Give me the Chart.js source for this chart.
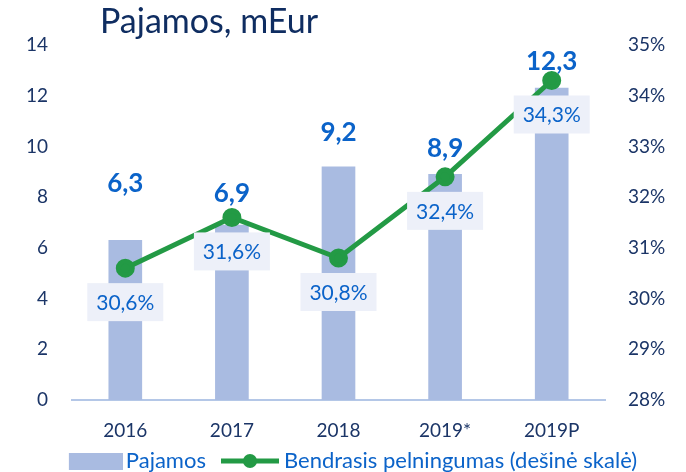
<!DOCTYPE html>
<html>
<head>
<meta charset="utf-8">
<title>Pajamos, mEur</title>
<script src="https://cdn.jsdelivr.net/npm/chart.js@4.4.1/dist/chart.umd.min.js"></script>
<style>
  html, body { margin: 0; padding: 0; background: #fff; }
  #wrap { width: 686px; height: 472px; position: relative; }
</style>
</head>
<body>
<div id="wrap"><canvas id="revChart"></canvas></div>
<script>
// data
const categories = ['2016', '2017', '2018', '2019*', '2019P'];
const revenue = [6.3, 6.9, 9.2, 8.9, 12.3];      // mEur, left axis
const grossMargin = [30.6, 31.6, 30.8, 32.4, 34.3]; // %, right axis
const leftTicks = [0, 2, 4, 6, 8, 10, 12, 14];
const rightTicks = [28, 29, 30, 31, 32, 33, 34, 35];

// how far above each bar top the value sits (px) - the 2016 one is pushed up past the line
const valueLift = [57, 31, 34, 26, 26];

const FONT = 'Lato, "Open Sans", sans-serif';
const NAVY = '#1b3567';
const BLUE = '#0b63c9';
const BAR = '#a9bbe1';
const GREEN = '#239a45';

const fmt = v => String(v).replace('.', ',');

// legend symbols: drawn off-centre inside the canvas so they sit close to their text
function legendRect() {
  const c = document.createElement('canvas');
  c.width = 82; c.height = 17;
  const g = c.getContext('2d');
  g.fillStyle = BAR;
  g.fillRect(28, 0, 54, 17);
  return c;
}
function legendLine() {
  const c = document.createElement('canvas');
  c.width = 78; c.height = 16;
  const g = c.getContext('2d');
  g.strokeStyle = GREEN; g.lineWidth = 5;
  g.beginPath(); g.moveTo(20, 8); g.lineTo(78, 8); g.stroke();
  g.fillStyle = GREEN;
  g.beginPath(); g.arc(49, 8, 7, 0, Math.PI * 2); g.fill();
  return c;
}

const labelsPlugin = {
  id: 'labels',
  afterDatasetsDraw(chart) {
    const ctx = chart.ctx;
    ctx.save();
    // bar values
    const bars = chart.getDatasetMeta(1);
    ctx.font = 'bold 26px ' + FONT;
    ctx.fillStyle = BLUE;
    ctx.textAlign = 'center';
    ctx.textBaseline = 'middle';
    bars.data.forEach((el, i) => {
      ctx.fillText(fmt(revenue[i]), el.x, el.y - valueLift[i]);
    });
    // margin boxes under the points
    const pts = chart.getDatasetMeta(0);
    ctx.font = '21px ' + FONT;
    pts.data.forEach((el, i) => {
      const cy = el.y + 34;
      ctx.fillStyle = '#edf0f9';
      ctx.fillRect(el.x - 38, cy - 19, 76, 38);
      ctx.fillStyle = BLUE;
      ctx.fillText(fmt(grossMargin[i]) + '%', el.x, cy + 1);
    });
    ctx.restore();
  },
  afterDraw(chart) {
    const ctx = chart.ctx;
    ctx.save();
    ctx.font = '34px ' + FONT;
    ctx.fillStyle = '#0f2d61';
    ctx.textAlign = 'left';
    ctx.textBaseline = 'alphabetic';
    ctx.fillText('Pajamos, mEur', 100, 33);
    ctx.restore();
  }
};

const rectImg = legendRect();
const lineImg = legendLine();

new Chart(document.getElementById('revChart'), {
  data: {
    labels: categories,
    datasets: [
      {
        type: 'line',
        label: 'Bendrasis pelningumas (dešinė skalė)',
        data: grossMargin,
        yAxisID: 'y1',
        borderColor: GREEN,
        backgroundColor: GREEN,
        borderWidth: 5,
        pointRadius: 7,
        pointHoverRadius: 7,
        tension: 0
      },
      {
        type: 'bar',
        label: 'Pajamos',
        data: revenue,
        yAxisID: 'y',
        backgroundColor: BAR,
        barThickness: 33
      }
    ]
  },
  options: {
    responsive: true,
    maintainAspectRatio: false,
    animation: false,
    layout: { padding: { top: 45, left: 0, right: 0, bottom: -10 } },
    scales: {
      x: {
        afterFit: axis => { axis.height = 49; },
        grid: { display: false, drawTicks: false },
        border: { display: true, color: '#b4c7e7', width: 2 },
        ticks: { color: NAVY, font: { family: FONT, size: 19 }, padding: 19 }
      },
      y: {
        position: 'left',
        min: 0, max: 14,
        afterBuildTicks: axis => { axis.ticks = leftTicks.map(v => ({ value: v })); },
        afterFit: axis => { axis.width = 72; },
        grid: { display: false, drawTicks: false },
        border: { display: false },
        ticks: { color: NAVY, font: { family: FONT, size: 19 }, padding: 24 }
      },
      y1: {
        position: 'right',
        min: 28, max: 35,
        afterBuildTicks: axis => { axis.ticks = rightTicks.map(v => ({ value: v })); },
        afterFit: axis => { axis.width = 81; },
        grid: { display: false, drawTicks: false },
        border: { display: false },
        ticks: {
          color: NAVY, font: { family: FONT, size: 19 }, padding: 23,
          callback: v => v + '%'
        }
      }
    },
    plugins: {
      tooltip: { enabled: false },
      legend: {
        position: 'bottom',
        labels: {
          usePointStyle: true,
          pointStyleWidth: 66,
          padding: 1,
          color: BLUE,
          font: { family: FONT, size: 22 },
          generateLabels: () => [
            { text: 'Pajamos', pointStyle: rectImg, fontColor: BLUE, datasetIndex: 1, lineWidth: 0, strokeStyle: 'transparent' },
            { text: 'Bendrasis pelningumas (dešinė skalė)', pointStyle: lineImg, fontColor: BLUE, datasetIndex: 0, lineWidth: 0, strokeStyle: 'transparent' }
          ]
        }
      }
    }
  },
  plugins: [labelsPlugin]
});
</script>
</body>
</html>
